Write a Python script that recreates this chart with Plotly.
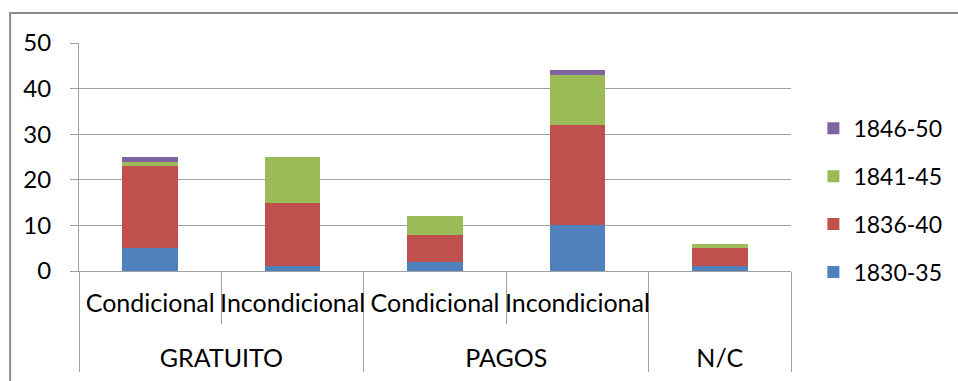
import plotly.graph_objects as go

groups = ["GRATUITO", "GRATUITO", "PAGOS", "PAGOS", "N/C"]
subcats = ["Condicional", "Incondicional", "Condicional", "Incondicional", " "]
series_names = ["1830-35", "1836-40", "1841-45", "1846-50"]
v_1830_35 = [5, 1, 2, 10, 1]
v_1836_40 = [18, 14, 6, 22, 4]
v_1841_45 = [1, 10, 4, 11, 1]
v_1846_50 = [1, 0, 0, 1, 0]
colors = ["#4F81BD", "#C0504D", "#9BBB59", "#8064A2"]

values = [v_1830_35, v_1836_40, v_1841_45, v_1846_50]

FONT = "Lato"
FS = 23
sub_labels = [s + "<br> " for s in subcats]

fig = go.Figure()
for i, (name, vals) in enumerate(zip(series_names, values)):
    fig.add_trace(go.Bar(
        x=[groups, sub_labels], y=vals, name=name,
        marker=dict(color=colors[i], line=dict(width=0)),
        legendgroup=name, legendrank=10 - i,
    ))

fig.update_layout(
    barmode="stack",
    bargap=0.61,
    width=958, height=381,
    margin=dict(l=79, r=166, t=43, b=110),
    paper_bgcolor="white", plot_bgcolor="white",
    font=dict(family=FONT, size=FS, color="#000000"),
    legend=dict(
        x=1.03, y=0.31, xanchor="left", yanchor="middle",
        traceorder="grouped", tracegroupgap=15, itemwidth=30,
        font=dict(family=FONT, size=FS),
    ),
    xaxis=dict(
        type="multicategory", automargin=False, tickangle=0,
        showline=True, linecolor="#a0a0a0", linewidth=1,
        showgrid=False,
        ticks="outside", tickson="boundaries", ticklen=52, tickcolor="#a0a0a0",
        showdividers=True, dividercolor="#a0a0a0", dividerwidth=1,
        ticklabelstandoff=10,
        tickfont=dict(family=FONT, size=25),
    ),
    yaxis=dict(
        range=[0, 50], dtick=10, automargin=False,
        showgrid=True, gridcolor="#a0a0a0", gridwidth=1,
        showline=True, linecolor="#a0a0a0", linewidth=1,
        ticks="outside", ticklen=8, tickcolor="#a0a0a0",
        ticklabelstandoff=14,
        tickfont=dict(family=FONT, size=24),
        zeroline=False,
    ),
    shapes=[dict(
        type="rect", xref="paper", yref="paper",
        x0=(10 - 79) / 713, x1=1.4, y0=-1.0, y1=1 + (43 - 13) / 228,
        line=dict(color="#8c8c8c", width=2), fillcolor="rgba(0,0,0,0)", layer="below",
    )],
)

fig.write_html("out.html", config={"displayModeBar": False},
               post_script="document.body.style.margin='0';document.body.style.overflow='hidden';")
